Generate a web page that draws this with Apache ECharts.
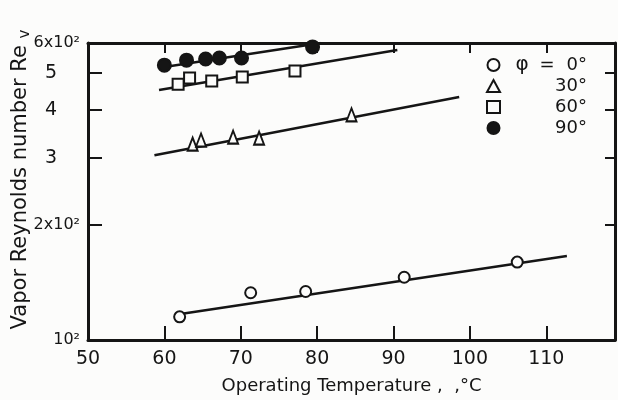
<!DOCTYPE html>
<html lang="en">
<head>
    <meta charset="utf-8"/>
    <title>Vapor Reynolds number</title>
    <script src="https://cdn.jsdelivr.net/npm/echarts@6/dist/echarts.min.js"></script>
</head>
<body style="margin:0;background:#fcfcfb">
<div id="chart" style="width:618px;height:400px;"></div>
<script type="text/javascript">
    // points: [temperature, Re_v]
    var pts0 = [[62.0, 115], [71.3, 133], [78.5, 134], [91.4, 146], [106.2, 160]];
    var pts30 = [[63.7, 326], [64.8, 334], [69.0, 340], [72.4, 338], [84.5, 389]];
    var pts60 = [[61.8, 468], [63.3, 486], [66.2, 477], [70.2, 489], [77.1, 507]];
    var pts90 = [[60.0, 525], [62.9, 541], [65.4, 545], [67.2, 548], [70.1, 548], [79.4, 586]];
    // fitted lines, end points
    var fit0 = [[62.1, 117], [112.7, 166]];
    var fit30 = [[58.7, 305], [98.6, 433]];
    var fit60 = [[59.3, 452], [90.5, 575]];
    var fit90 = [[60.0, 519], [80.5, 600]];
    var yTicks = [100, 200, 300, 400, 500, 600];
    var yLabels = {100: '10²', 200: '2x10²', 300: '{d|3}', 400: '{d|4}', 500: '{d|5}', 600: '6x10²'};
    var names = ['0°', '30°', '60°', '90°'];

    var ink = '#151515';
    var paper = '#fcfcfb';
    var font = 'DejaVu Sans';
    var myChart = echarts.init(document.getElementById('chart'));

    function scatter(name, data, symbol, size, fill) {
        return {
            name: name, type: 'scatter', data: data, symbol: symbol, symbolSize: size,
            itemStyle: {color: fill, borderColor: ink, borderWidth: 2, opacity: 1}, z: 5
        };
    }
    function fitLine(data) {
        return {
            type: 'line', data: data, showSymbol: false, silent: true,
            lineStyle: {color: ink, width: 2.5}
        };
    }

    var option = {
        backgroundColor: paper,
        animation: false,
        textStyle: {fontFamily: font, color: ink},
        grid: {left: 88, right: 3, top: 43, bottom: 60, outerBoundsMode: 'none', containLabel: false},
        legend: {
            data: names, orient: 'vertical', left: 481, top: 50,
            itemWidth: 13, itemHeight: 12, itemGap: 1,
            formatter: function (n) {
                if (n === '0°') return '{a|φ}{b|=}{c|' + n + '}';
                return '{a| }{b| }{c|' + n + '}';
            },
            textStyle: {
                color: ink, fontSize: 18, fontFamily: font, lineHeight: 19,
                rich: {
                    a: {width: 34, align: 'center', fontSize: 20, lineHeight: 19, fontFamily: font, color: ink},
                    b: {width: 16, align: 'center', fontSize: 18, lineHeight: 19, fontFamily: font, color: ink},
                    c: {width: 32, align: 'right', fontSize: 18, lineHeight: 19, fontFamily: font, color: ink}
                }
            }
        },
        xAxis: [{
            type: 'value', min: 50, max: 119, interval: 10,
            name: 'Operating Temperature ,  ,°C', nameLocation: 'middle', nameGap: 37,
            nameMoveOverlap: false,
            nameTextStyle: {fontSize: 18, fontFamily: font, color: ink},
            axisLine: {lineStyle: {color: ink, width: 3}},
            axisTick: {inside: true, length: 14, lineStyle: {color: ink, width: 2}},
            axisLabel: {fontSize: 19, color: ink, margin: 10, showMaxLabel: false},
            splitLine: {show: false}
        }, {
            type: 'value', position: 'top', min: 50, max: 119, interval: 10,
            axisLine: {show: true, lineStyle: {color: ink, width: 3}},
            axisTick: {inside: true, length: 10, lineStyle: {color: ink, width: 2}},
            axisLabel: {show: false},
            splitLine: {show: false}
        }],
        yAxis: [{
            type: 'log', min: 100, max: 600,
            name: 'Vapor Reynolds number Re {s|v}', nameLocation: 'middle', nameGap: 55,
            nameMoveOverlap: false,
            nameTextStyle: {
                fontSize: 21, fontFamily: font, color: ink, padding: [0, 0, 0, 24],
                rich: {s: {fontSize: 15, fontFamily: font, color: ink, padding: [10, 0, 0, 0]}}
            },
            axisLine: {show: true, lineStyle: {color: ink, width: 3}},
            axisTick: {inside: true, length: 14, customValues: yTicks, lineStyle: {color: ink, width: 2}},
            axisLabel: {
                customValues: yTicks, fontSize: 16, color: ink, margin: 8,
                formatter: function (v) { return yLabels[Math.round(v)] || ''; },
                rich: {d: {fontSize: 19, fontFamily: font, color: ink, padding: [0, 23, 0, 0]}}
            },
            splitLine: {show: false}
        }, {
            type: 'log', min: 100, max: 600, position: 'right',
            axisLine: {show: true, lineStyle: {color: ink, width: 3}},
            axisTick: {inside: true, length: 10, customValues: yTicks, lineStyle: {color: ink, width: 2}},
            axisLabel: {show: false},
            splitLine: {show: false}
        }],
        series: [
            fitLine(fit0), fitLine(fit30), fitLine(fit60), fitLine(fit90),
            scatter('0°', pts0, 'circle', 11, paper),
            scatter('30°', pts30, 'triangle', [10, 13], paper),
            scatter('60°', pts60, 'rect', 11, paper),
            scatter('90°', pts90, 'circle', 13, ink)
        ]
    };
    myChart.setOption(option);
</script>
</body>
</html>
